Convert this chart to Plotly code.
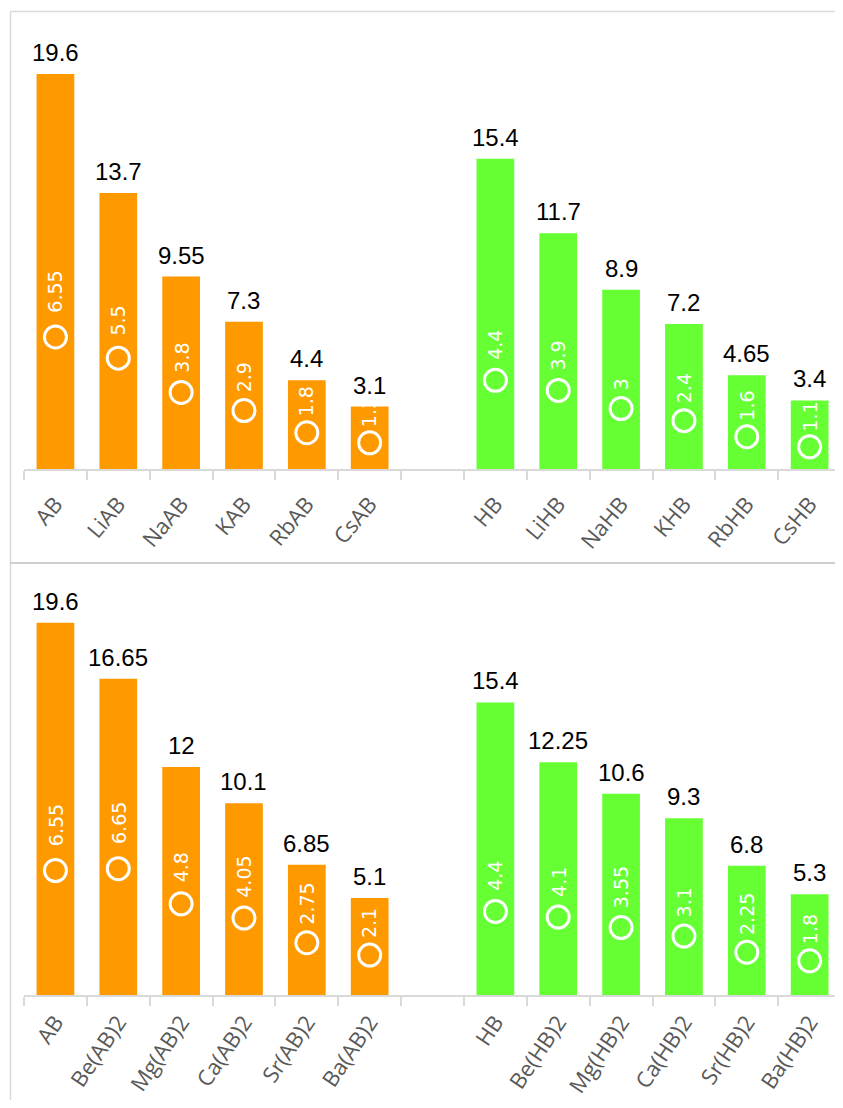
import plotly.graph_objects as go

# ---------------- data ----------------
top_left_cats = ["AB", "LiAB", "NaAB", "KAB", "RbAB", "CsAB"]
top_left_vals = [19.6, 13.7, 9.55, 7.3, 4.4, 3.1]
top_left_inner = [6.55, 5.5, 3.8, 2.9, 1.8, 1.3]

top_right_cats = ["HB", "LiHB", "NaHB", "KHB", "RbHB", "CsHB"]
top_right_vals = [15.4, 11.7, 8.9, 7.2, 4.65, 3.4]
top_right_inner = [4.4, 3.9, 3, 2.4, 1.6, 1.1]

bottom_left_cats = ["AB", "Be(AB)2", "Mg(AB)2", "Ca(AB)2", "Sr(AB)2", "Ba(AB)2"]
bottom_left_vals = [19.6, 16.65, 12, 10.1, 6.85, 5.1]
bottom_left_inner = [6.55, 6.65, 4.8, 4.05, 2.75, 2.1]

bottom_right_cats = ["HB", "Be(HB)2", "Mg(HB)2", "Ca(HB)2", "Sr(HB)2", "Ba(HB)2"]
bottom_right_vals = [15.4, 12.25, 10.6, 9.3, 6.8, 5.3]
bottom_right_inner = [4.4, 4.1, 3.55, 3.1, 2.25, 1.8]

# ---------------- style ----------------
OFF = 8  # default page body margin
W, H = 843 - 2 * OFF, 1108 - 2 * OFF
ORANGE = "#FF9900"
GREEN = "#66FF33"
LINE = "#D9D9D9"
TICKTXT = "#595959"
VAL_FONT = dict(family="Liberation Sans, Arial", size=24, color="black")
IN_FONT = dict(family="DejaVu Sans", size=19, color="white")
TICK_FONT = dict(family="Open Sans", size=22, color=TICKTXT)

AX_LEFT, CAT_W = 24, 62.85          # page px of plot-area left edge, px per category


def px(x):
    return (x - OFF) / W


def py(y):
    return 1 - (y - OFF) / H


fig = go.Figure()
annotations = []

panels = [
    ("x", "y", top_left_cats, top_left_vals, top_left_inner, top_right_cats, top_right_vals, top_right_inner),
    ("x2", "y2", bottom_left_cats, bottom_left_vals, bottom_left_inner, bottom_right_cats, bottom_right_vals, bottom_right_inner),
]

for xa, ya, lc, lv, li, rc, rv, ri in panels:
    for cats, vals, inner, col in ((lc, lv, li, ORANGE), (rc, rv, ri, GREEN)):
        fig.add_trace(go.Bar(x=cats, y=vals, marker=dict(color=col, line=dict(width=0)),
                             width=0.6, xaxis=xa, yaxis=ya, hoverinfo="skip"))
        fig.add_trace(go.Scatter(x=cats, y=inner, mode="markers", xaxis=xa, yaxis=ya,
                                 marker=dict(symbol="circle-open", size=22, color="white",
                                             line=dict(width=3, color="white")),
                                 hoverinfo="skip"))
        for c, v, iv in zip(cats, vals, inner):
            annotations.append(dict(x=c, y=v, xref=xa, yref=ya, text=f"{v:g}", showarrow=False,
                                    yanchor="bottom", yshift=6, font=VAL_FONT))
            annotations.append(dict(x=c, y=iv, xref=xa, yref=ya, text=f"{iv:g}", showarrow=False,
                                    textangle=-90, yanchor="bottom", yshift=11 + 1.8 * iv,
                                    font=IN_FONT))

x_hi = -0.5 + (843 - OFF - AX_LEFT) / CAT_W
common_x = dict(type="category", tickson="boundaries", ticks="outside", ticklen=9,
                tickcolor=LINE, tickwidth=1.5, showline=True, linecolor=LINE, linewidth=1.5,
                showgrid=False, zeroline=False, tickfont=TICK_FONT, range=[-0.5, x_hi],
                domain=[px(AX_LEFT), 1], fixedrange=True)

fig.update_layout(
    width=W, height=H, margin=dict(l=0, r=0, t=0, b=0),
    paper_bgcolor="white", plot_bgcolor="white", showlegend=False,
    barmode="overlay",
    xaxis=dict(common_x, categoryarray=top_left_cats + [" "] + top_right_cats,
               categoryorder="array", tickangle=-50, anchor="y", ticklabelstandoff=12),
    yaxis=dict(domain=[py(469), py(11.5)], range=[0, 22.7], visible=False, anchor="x"),
    xaxis2=dict(common_x, categoryarray=bottom_left_cats + [" "] + bottom_right_cats,
                categoryorder="array", tickangle=-56, anchor="y2", ticklabelstandoff=4),
    yaxis2=dict(domain=[py(995), py(563)], range=[0, 22.74], visible=False, anchor="x2"),
    annotations=annotations,
    shapes=[
        dict(type="line", xref="paper", yref="paper", x0=px(10), x1=1, y0=py(11.5), y1=py(11.5),
             line=dict(color=LINE, width=1.5)),
        dict(type="line", xref="paper", yref="paper", x0=px(10.5), x1=px(10.5), y0=0, y1=py(11.5),
             line=dict(color=LINE, width=1.5)),
        dict(type="line", xref="paper", yref="paper", x0=px(10), x1=1, y0=py(563), y1=py(563),
             line=dict(color="#CFCFCF", width=2)),
    ],
)

fig.write_html("out.html")
